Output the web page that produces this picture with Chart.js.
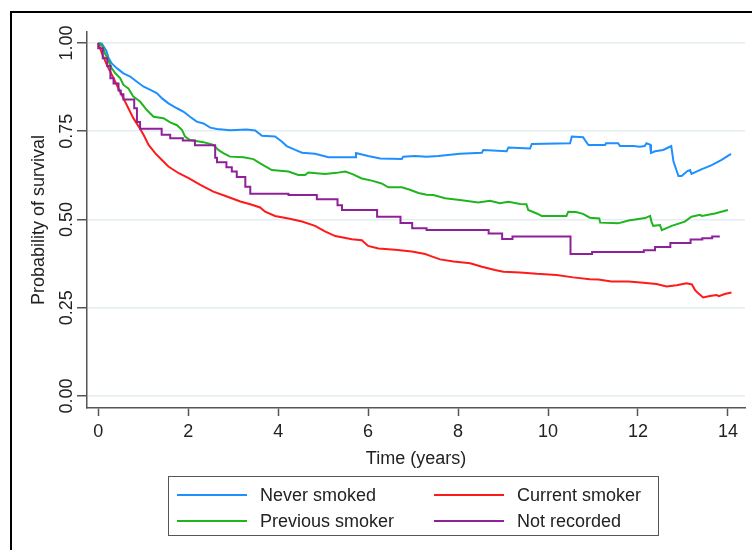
<!DOCTYPE html>
<html>
<head>
<meta charset="utf-8">
<title>Survival by smoking status</title>
<script src="https://cdn.jsdelivr.net/npm/chart.js@4.4.1/dist/chart.umd.min.js"></script>
<style>
    html, body { margin: 0; padding: 0; background: #fff; overflow: hidden; }
    #wrap { position: relative; width: 752px; height: 550px; }
    #frame { position: absolute; left: 10px; top: 11px; width: 800px; height: 600px; border: 2px solid #000; }
    #chart-km { position: absolute; left: 0; top: 0; }
    #legend {
        position: absolute; left: 168px; top: 476px; width: 491px; height: 60px;
        border: 1.5px solid #555; box-sizing: border-box;
        padding: 5px 0 0 8px;
        display: grid; grid-template-columns: 257px 1fr; grid-auto-rows: 26px;
        font: 18px "Liberation Sans", Arial, sans-serif; color: #222;
    }
    #legend .item { display: flex; align-items: center; white-space: nowrap; }
    #legend .swatch { width: 70px; height: 2px; margin-right: 13px; }
</style>
</head>
<body>
<div id="wrap">
    <div id="frame"></div>
    <canvas id="chart-km" width="752" height="550"></canvas>
    <div id="legend"></div>
</div>
<script>
var xTicks = [0, 2, 4, 6, 8, 10, 12, 14];
var yTicks = [0, 0.25, 0.5, 0.75, 1];
var yTickLabels = ['0.00', '0.25', '0.50', '0.75', '1.00'];
var seriesNames = ['Never smoked', 'Current smoker', 'Previous smoker', 'Not recorded'];

// never smoked
var neverTime = [0, 0.08, 0.12, 0.18, 0.23, 0.30, 0.42, 0.56, 0.71, 0.86, 1.01, 1.16, 1.30, 1.42, 1.56, 1.75, 1.90, 2.04, 2.19, 2.34,
    2.49, 2.64, 2.93, 3.30, 3.49, 3.64, 3.93, 4.08, 4.19, 4.38, 4.53, 4.82, 5.12, 5.71, 5.73, 6.00, 6.27, 6.75, 6.78, 7.04,
    7.30, 7.56, 8.04, 8.53, 8.56, 9.08, 9.12, 9.60, 9.64, 10.49, 10.53, 10.78, 10.82, 10.90, 11.27, 11.29, 11.56, 11.60, 11.90, 12.04,
    12.15, 12.19, 12.27, 12.29, 12.38, 12.56, 12.71, 12.74, 12.79, 12.86, 12.90, 12.97, 13.10, 13.16, 13.19, 13.41, 13.64, 13.86, 14.07];
var neverSurv = [1, 0.998, 0.99, 0.978, 0.957, 0.942, 0.928, 0.914, 0.905, 0.89, 0.876, 0.867, 0.858, 0.843, 0.829, 0.815, 0.805, 0.791, 0.777, 0.772,
    0.76, 0.756, 0.753, 0.755, 0.752, 0.737, 0.735, 0.721, 0.708, 0.697, 0.689, 0.686, 0.676, 0.676, 0.688, 0.68, 0.673, 0.671, 0.678, 0.68,
    0.678, 0.68, 0.686, 0.689, 0.697, 0.693, 0.704, 0.701, 0.714, 0.716, 0.735, 0.733, 0.725, 0.711, 0.711, 0.716, 0.716, 0.708, 0.708, 0.706,
    0.708, 0.716, 0.712, 0.688, 0.693, 0.697, 0.706, 0.708, 0.664, 0.638, 0.623, 0.623, 0.637, 0.64, 0.629, 0.642, 0.654, 0.669, 0.686];

// current smoker
var currentTime = [0, 0.08, 0.16, 0.23, 0.34, 0.45, 0.56, 0.67, 0.78, 0.90, 1.01, 1.12, 1.27, 1.41, 1.56, 1.79, 2.01, 2.27, 2.56, 2.86,
    3.16, 3.38, 3.60, 3.71, 3.93, 4.23, 4.53, 4.82, 5.04, 5.27, 5.64, 5.86, 6.00, 6.23, 6.60, 6.97, 7.27, 7.38, 7.60, 7.90,
    8.27, 8.53, 8.82, 9.01, 9.38, 9.75, 10.19, 10.56, 10.93, 11.12, 11.41, 11.79, 12.12, 12.41, 12.64, 12.86, 13.08, 13.20, 13.27, 13.34,
    13.45, 13.60, 13.75, 13.80, 13.93, 14.08];
var currentSurv = [1, 0.971, 0.947, 0.928, 0.9, 0.871, 0.843, 0.815, 0.787, 0.763, 0.739, 0.711, 0.687, 0.669, 0.65, 0.631, 0.617, 0.598, 0.579, 0.565,
    0.551, 0.543, 0.534, 0.522, 0.51, 0.503, 0.494, 0.482, 0.466, 0.453, 0.444, 0.441, 0.425, 0.418, 0.414, 0.409, 0.402, 0.397, 0.387, 0.381,
    0.376, 0.366, 0.357, 0.352, 0.35, 0.346, 0.343, 0.336, 0.331, 0.33, 0.324, 0.324, 0.321, 0.317, 0.31, 0.314, 0.319, 0.316, 0.3, 0.291,
    0.279, 0.283, 0.286, 0.283, 0.289, 0.293];

// previous smoker
var previousTime = [0, 0.10, 0.15, 0.23, 0.30, 0.38, 0.49, 0.56, 0.67, 0.78, 0.93, 1.08, 1.23, 1.45, 1.60, 1.75, 1.86, 1.93, 2.04, 2.34,
    2.56, 2.67, 2.78, 2.93, 3.23, 3.45, 3.60, 3.86, 4.23, 4.45, 4.60, 4.67, 5.04, 5.30, 5.49, 5.64, 5.86, 6.08, 6.30, 6.45,
    6.75, 6.93, 7.12, 7.30, 7.45, 7.71, 8.04, 8.45, 8.71, 8.93, 9.12, 9.38, 9.52, 9.56, 9.75, 9.86, 10.41, 10.45, 10.62, 10.78,
    10.93, 11.14, 11.16, 11.56, 11.79, 12.16, 12.27, 12.30, 12.34, 12.49, 12.53, 12.75, 13.04, 13.19, 13.38, 13.42, 13.71, 14.00];
var previousSurv = [1, 0.99, 0.97, 0.95, 0.928, 0.914, 0.9, 0.881, 0.871, 0.848, 0.834, 0.81, 0.791, 0.787, 0.775, 0.767, 0.754, 0.735, 0.725, 0.719,
    0.711, 0.697, 0.688, 0.678, 0.676, 0.671, 0.659, 0.64, 0.636, 0.626, 0.626, 0.633, 0.629, 0.632, 0.636, 0.629, 0.616, 0.61, 0.602, 0.591,
    0.591, 0.584, 0.575, 0.57, 0.569, 0.56, 0.555, 0.548, 0.553, 0.546, 0.55, 0.544, 0.543, 0.527, 0.517, 0.51, 0.51, 0.522, 0.521, 0.516,
    0.505, 0.503, 0.491, 0.489, 0.497, 0.504, 0.51, 0.494, 0.482, 0.484, 0.47, 0.482, 0.494, 0.508, 0.513, 0.51, 0.517, 0.527];

// not recorded (step function: value holds until the next time)
var notRecTime = [0, 0.10, 0.20, 0.27, 0.34, 0.45, 0.50, 0.56, 0.80, 0.86, 0.93, 1.41, 1.60, 1.88, 2.15, 2.60, 2.64, 2.85, 2.97, 3.08,
    3.27, 3.38, 4.23, 4.86, 5.32, 5.42, 6.20, 6.72, 6.98, 7.30, 8.68, 8.98, 9.21, 10.50, 10.98, 12.13, 12.38, 12.72, 13.17, 13.43,
    13.65, 13.82];
var notRecSurv = [1, 0.985, 0.957, 0.935, 0.9, 0.885, 0.865, 0.855, 0.84, 0.815, 0.776, 0.757, 0.74, 0.73, 0.724, 0.71, 0.675, 0.662, 0.648, 0.636,
    0.62, 0.593, 0.573, 0.569, 0.557, 0.54, 0.527, 0.508, 0.49, 0.475, 0.47, 0.46, 0.445, 0.452, 0.402, 0.408, 0.413, 0.422, 0.433, 0.443,
    0.447, 0.452];

var seriesColors = ['#1e8fff', '#ff1a1a', '#1fb51f', '#8e2199'];

function toPoints(times, surv) {
    return times.map(function (t, i) { return { x: t, y: surv[i] }; });
}

// rotated y tick labels, reading bottom to top
var yTickLabelPlugin = {
    id: 'yTickLabels',
    afterDraw: function (chart) {
        var yScale = chart.scales.y;
        var ctx = chart.ctx;
        ctx.save();
        ctx.font = '18px "Liberation Sans", Arial, sans-serif';
        ctx.fillStyle = '#222';
        ctx.textAlign = 'center';
        ctx.textBaseline = 'alphabetic';
        yTicks.forEach(function (v, i) {
            ctx.save();
            ctx.translate(yScale.right - 15, yScale.getPixelForValue(v));
            ctx.rotate(-Math.PI / 2);
            ctx.fillText(yTickLabels[i], 0, 0);
            ctx.restore();
        });
        ctx.restore();
    }
};

function dataset(idx, times, surv, stepped, order) {
    return {
        label: seriesNames[idx],
        data: toPoints(times, surv),
        borderColor: seriesColors[idx],
        backgroundColor: seriesColors[idx],
        borderWidth: 2,
        pointRadius: 0,
        tension: 0,
        stepped: stepped,
        fill: false,
        order: order
    };
}

function buildLegend(chart) {
    var html = '';
    chart.data.datasets.forEach(function (ds) {
        html += '<div class="item"><span class="swatch" style="background:' + ds.borderColor + '"></span>' + ds.label + '</div>';
    });
    document.getElementById('legend').innerHTML = html;
}

Chart.defaults.font.family = '"Liberation Sans", Arial, sans-serif';
Chart.defaults.font.size = 18;
Chart.defaults.color = '#222';

var chart = new Chart(document.getElementById('chart-km').getContext('2d'), {
    type: 'line',
    data: {
        datasets: [
            dataset(0, neverTime, neverSurv, false, 3),
            dataset(1, currentTime, currentSurv, false, 2),
            dataset(2, previousTime, previousSurv, false, 1),
            dataset(3, notRecTime, notRecSurv, 'after', 0)
        ]
    },
    options: {
        responsive: false,
        animation: false,
        devicePixelRatio: 1,
        layout: { padding: { left: 14, top: 32, right: 7, bottom: 80 } },
        plugins: {
            legend: { display: false },
            tooltip: { enabled: false }
        },
        scales: {
            x: {
                type: 'linear',
                min: -0.25,
                max: 14.38,
                afterBuildTicks: function (scale) {
                    scale.ticks = xTicks.map(function (v) { return { value: v }; });
                },
                afterFit: function (scale) { scale.height = 62; },
                ticks: { padding: 5, maxRotation: 0, autoSkip: false },
                grid: { drawOnChartArea: false, tickLength: 8, tickColor: '#555', tickWidth: 1.5 },
                border: { color: '#555', width: 1.5 },
                title: { display: true, text: 'Time (years)', padding: { top: 0, bottom: 0 } }
            },
            y: {
                min: -0.034,
                max: 1.031,
                afterBuildTicks: function (scale) {
                    scale.ticks = yTicks.map(function (v) { return { value: v }; });
                },
                afterFit: function (scale) { scale.width = 73; },
                ticks: { display: false },
                grid: { color: '#e4edf1', lineWidth: 1.5, tickLength: 10, tickColor: '#555', tickWidth: 1.5 },
                border: { color: '#555', width: 1.5 },
                title: { display: true, text: 'Probability of survival', padding: { top: 14, bottom: 0 } }
            }
        }
    },
    plugins: [yTickLabelPlugin]
});

buildLegend(chart);
</script>
</body>
</html>
